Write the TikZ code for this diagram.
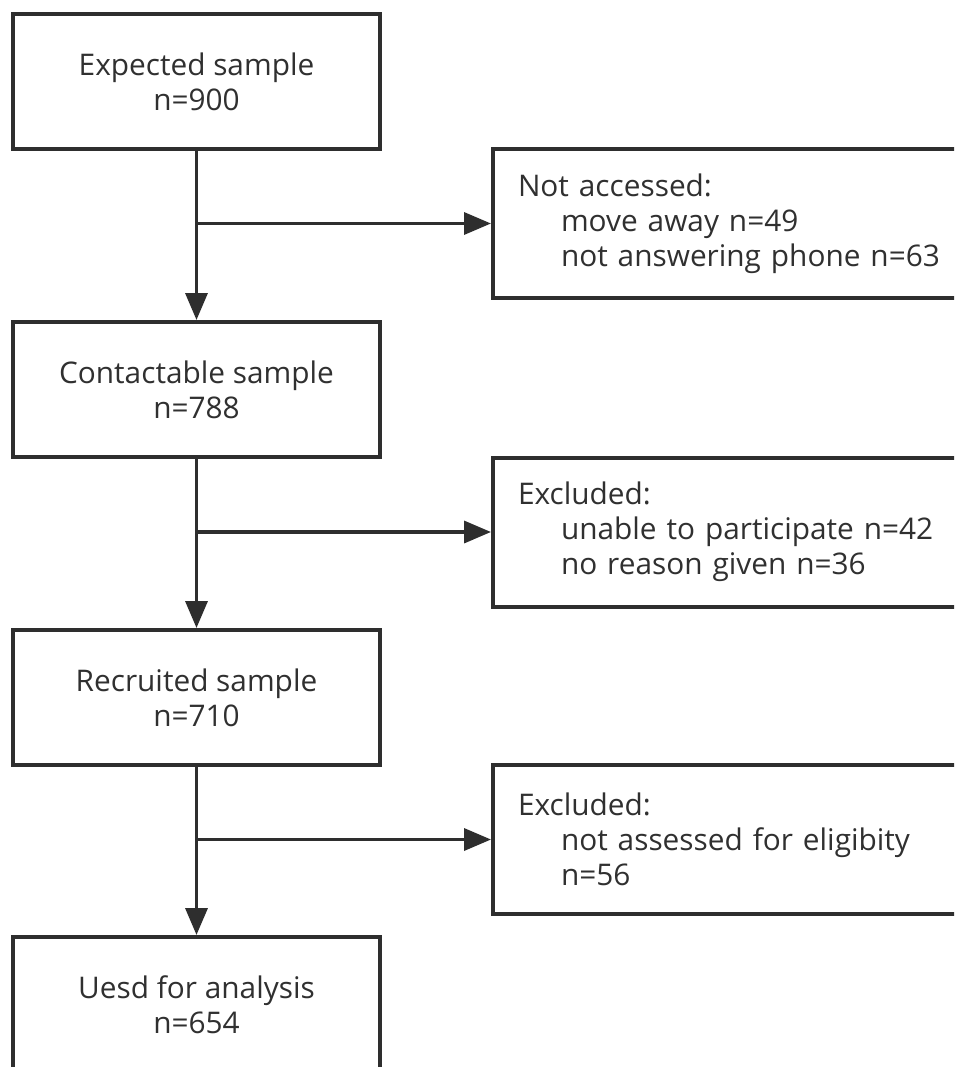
\documentclass[tikz,border=0pt]{standalone}
\usepackage{fontspec}
\setmainfont{Open Sans}
\usetikzlibrary{arrows.meta}
\definecolor{ink}{HTML}{2E2E2E}
\definecolor{txt}{HTML}{303030}
\begin{document}
\begin{tikzpicture}[x=1pt,y=-1pt,
  box/.style={draw=ink,line width=4pt,rectangle,minimum width=367pt,minimum height=135pt,
    align=center,text=txt,font=\fontsize{29.8}{35}\selectfont,inner sep=0pt},
  side/.style={draw=ink,line width=4pt,rectangle,minimum width=507pt,minimum height=149pt,
    text width=457pt,align=left,text=txt,font=\fontsize{29.8}{35}\selectfont,inner xsep=25pt,inner ysep=0pt},
  flow/.style={draw=ink,line width=3.5pt,-{Triangle[length=27pt,width=22pt]}}]
\useasboundingbox (0,0) rectangle (954,1067);
\clip (0,0) rectangle (954,1067);
\fill[white] (0,0) rectangle (954,1067);
\node[box] (b1) at (196.5,81.5) {Expected sample\\n=900};
\node[box] (b2) at (196.5,389.5) {Contactable sample\\n=788};
\node[box] (b3) at (196.5,697.5) {Recruited sample\\n=710};
\node[box] (b4) at (196.5,1004.5) {Uesd for analysis\\n=654};
\node[side] (r1) at (746.5,223.5) {Not accessed:\\\hspace*{43pt}move away n=49\\\hspace*{43pt}not answering phone n=63};
\node[side] (r2) at (746.5,532) {Excluded:\\\hspace*{43pt}unable to participate n=42\\\hspace*{43pt}no reason given n=36};
\node[side] (r3) at (746.5,839.5) {Excluded:\\\hspace*{43pt}not assessed for eligibity\\\hspace*{43pt}n=56};
\coordinate (j1) at (b1.south |- r1.west);
\coordinate (j2) at (b2.south |- r2.west);
\coordinate (j3) at (b3.south |- r3.west);
\draw[flow] (b1.south) -- (b2.north);
\draw[flow] (b2.south) -- (b3.north);
\draw[flow] (b3.south) -- (b4.north);
\draw[flow] (j1) -- (r1.west);
\draw[flow] (j2) -- (r2.west);
\draw[flow] (j3) -- (r3.west);
\end{tikzpicture}
\end{document}
